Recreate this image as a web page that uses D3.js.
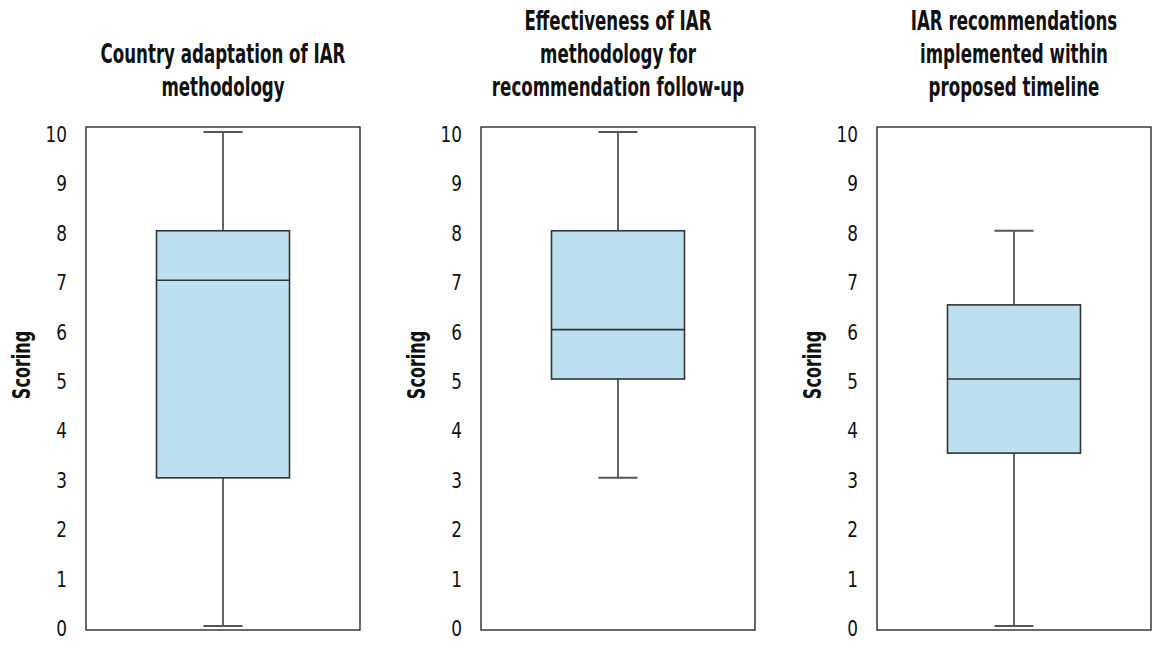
<!DOCTYPE html>
<html><head><meta charset="utf-8">
<script src="https://cdn.jsdelivr.net/npm/d3@7"></script>
<style>
html,body{margin:0;padding:0;background:#fff;}
text{font-family:"Liberation Sans Narrow","DejaVu Sans Condensed","Roboto Condensed",sans-serif;fill:#111;}
</style></head>
<body><svg id="chart" width="1153" height="645"></svg>
<script>
// ---- data ----
const titles = [
  ["Country adaptation of IAR", "methodology"],
  ["Effectiveness of IAR", "methodology for", "recommendation follow-up"],
  ["IAR recommendations", "implemented within", "proposed timeline"]
];
const mins    = [0, 3, 0];
const q1s     = [3, 5, 3.5];
const medians = [7, 6, 5];
const q3s     = [8, 8, 6.5];
const maxs    = [10, 10, 8];
const yTicks  = [0,1,2,3,4,5,6,7,8,9,10];
const yLabel  = "Scoring";

(function(){
// ---- layout ----
const svg = d3.select("#chart");
const panelLefts = [86, 481, 877];
const panelW = 274;
const plotTop = 127, plotBottom = 631;
const y = d3.scaleLinear().domain([-0.1, 10.1]).range([plotBottom, plotTop]);

const titleSize = 26, tickSize = 22;
// horizontal compression so text mimics the condensed original face
const probe = svg.append("text").attr("font-size", titleSize).attr("font-weight", "bold").text("Country adaptation of IAR");
const squeeze = 245 / probe.node().getComputedTextLength();
probe.remove();
const probe2 = svg.append("text").attr("font-size", tickSize).text("10");
const tickSqueeze = 21.5 / probe2.node().getComputedTextLength();
probe2.remove();

titles.forEach((lines, i) => {
  const x0 = panelLefts[i];
  const cx = x0 + panelW / 2;
  const g = svg.append("g");

  // title (bottom aligned)
  const n = lines.length;
  lines.forEach((t, k) => {
    g.append("text")
      .attr("transform", `translate(${cx},${96 - (n - 1 - k) * 33}) scale(${squeeze},1)`)
      .attr("text-anchor", "middle")
      .attr("font-size", titleSize).attr("font-weight", "bold")
      .text(t);
  });

  // frame
  g.append("rect")
    .attr("x", x0).attr("y", plotTop).attr("width", panelW).attr("height", plotBottom - plotTop - 1)
    .attr("fill", "none").attr("stroke", "#1a1a1a").attr("stroke-width", 1.3);

  // tick labels
  g.selectAll("text.tick").data(yTicks).enter().append("text")
    .attr("class", "tick")
    .attr("transform", d => `translate(${x0 - 19},${y(d) + 10}) scale(${tickSqueeze},1)`)
    .attr("text-anchor", "end").attr("font-size", tickSize)
    .text(d => d);

  // y-axis title
  g.append("text")
    .attr("transform", `translate(${x0 - 56},365) rotate(-90) scale(${squeeze},1)`)
    .attr("text-anchor", "middle").attr("font-size", 25).attr("font-weight", "bold")
    .text(yLabel);

  // box plot
  const boxW = 133, capW = 39;
  const bx = cx;
  g.append("line").attr("x1", bx).attr("x2", bx).attr("y1", y(maxs[i])).attr("y2", y(q3s[i]))
    .attr("stroke", "#111").attr("stroke-width", 1.3);
  g.append("line").attr("x1", bx).attr("x2", bx).attr("y1", y(q1s[i])).attr("y2", y(mins[i]))
    .attr("stroke", "#111").attr("stroke-width", 1.3);
  [maxs[i], mins[i]].forEach(v => {
    g.append("line").attr("x1", bx - capW / 2).attr("x2", bx + capW / 2)
      .attr("y1", y(v)).attr("y2", y(v))
      .attr("stroke", "#555").attr("stroke-width", 2);
  });
  g.append("rect")
    .attr("x", bx - boxW / 2).attr("y", y(q3s[i]))
    .attr("width", boxW).attr("height", y(q1s[i]) - y(q3s[i]))
    .attr("fill", "#bde0f1").attr("stroke", "#333").attr("stroke-width", 1.6);
  g.append("line").attr("x1", bx - boxW / 2).attr("x2", bx + boxW / 2)
    .attr("y1", y(medians[i])).attr("y2", y(medians[i]))
    .attr("stroke", "#333").attr("stroke-width", 1.6);
});
})();
</script>
</body></html>
